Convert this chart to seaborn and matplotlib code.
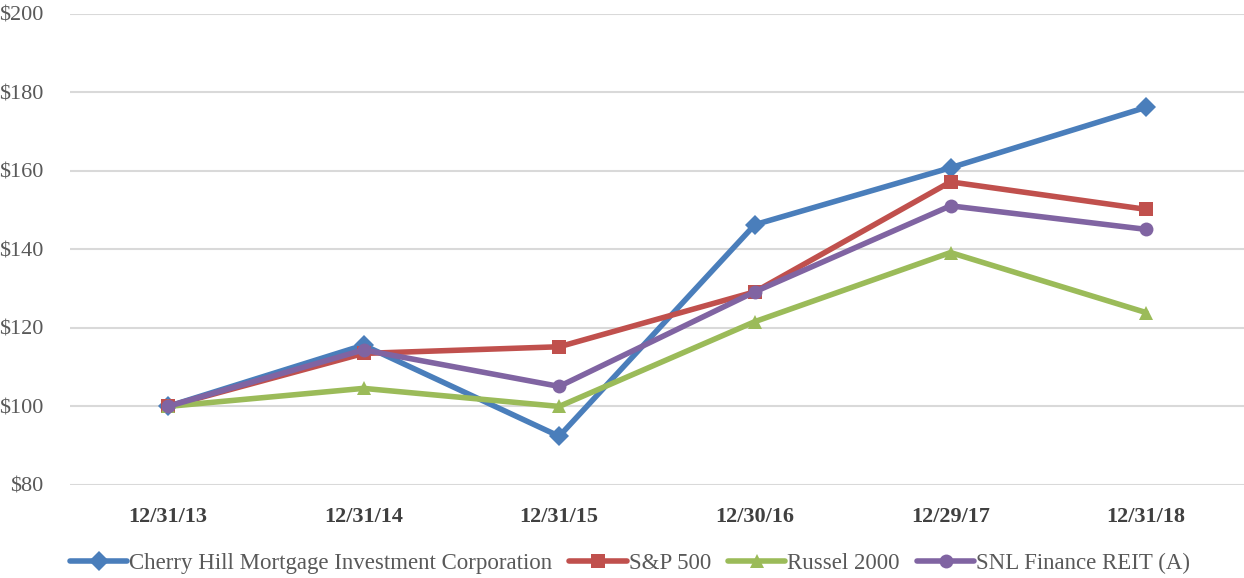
import numpy as np
import pandas as pd
import matplotlib
matplotlib.use("Agg")
import matplotlib.pyplot as plt
import seaborn as sns

# data
dates = ['12/31/13', '12/31/14', '12/31/15', '12/30/16', '12/29/17', '12/31/18']
cherry_hill = [100, 115.6, 92.4, 146.3, 160.8, 176.2]
sp500 = [100, 113.5, 115.2, 129.2, 157.2, 150.2]
russell = [100, 104.6, 100.0, 121.6, 139.2, 123.9]
snl_reit = [100, 114.4, 105.1, 129.2, 151.1, 145.1]

series_names = ['Cherry Hill Mortgage Investment Corporation', 'S&P 500',
                'Russel 2000', 'SNL Finance REIT (A)']
colors = ['#4A7EBB', '#C0504D', '#9BBB59', '#8064A2']
markers = ['D', 's', '^', 'o']

df = pd.DataFrame({'date': dates * 4,
                   'value': cherry_hill + sp500 + russell + snl_reit,
                   'series': np.repeat(series_names, len(dates))})

sns.set_style('white')
plt.rcParams['font.family'] = ['Liberation Serif', 'DejaVu Serif']

fig = plt.figure(figsize=(12.44, 5.78), dpi=100)
ax = fig.add_axes([0.0563, 0.161, 0.9437, 0.815])

sns.lineplot(data=df, x='date', y='value', hue='series', style='series',
             palette=dict(zip(series_names, colors)),
             markers=dict(zip(series_names, markers)),
             dashes=False, linewidth=4.0, markersize=10,
             markeredgewidth=0, sort=False, ax=ax)

ax.set_xlim(-0.5, 5.5)
ax.set_ylim(80, 200)
ax.set_yticks(range(80, 201, 20))
ax.set_yticklabels([f'${v}' for v in range(80, 201, 20)])
ax.yaxis.grid(True, color='#D9D9D9', linewidth=1.5)
ax.xaxis.grid(False)
for s in ax.spines.values():
    s.set_visible(False)
ax.tick_params(axis='both', length=0)
ax.tick_params(axis='y', labelsize=16, labelcolor='#595959', pad=19)
ax.tick_params(axis='x', labelsize=16, labelcolor='#404040', pad=16)
for t in ax.get_xticklabels():
    t.set_fontweight('bold')
ax.set_xlabel('')
ax.set_ylabel('')

handles, labels = ax.get_legend_handles_labels()
leg = ax.legend(handles, labels, loc='upper center', bbox_to_anchor=(0.477, -0.125),
                ncol=4, frameon=False, fontsize=16.5, handlelength=2.5,
                handletextpad=0.08, columnspacing=0.75, borderaxespad=0)
for t in leg.get_texts():
    t.set_color('#595959')

fig.savefig('out.png', dpi=100)
